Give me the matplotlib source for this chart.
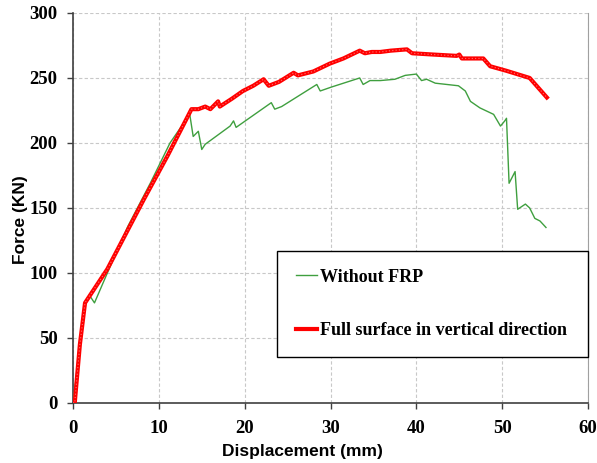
import matplotlib
matplotlib.use("Agg")
import matplotlib.pyplot as plt

# load-displacement readings, displacement in mm, force in kN
disp_plain = [0, 0.5, 1.0, 1.5, 2.0, 2.5, 4.0, 6.4, 9.0, 11.3, 13.6, 14.0, 14.6, 15.0, 15.4,
              18.3, 18.7, 19.0, 23.1, 23.5, 24.3, 28.4, 28.8, 30.1, 33.4, 33.8, 34.6, 35.8,
              37.5, 38.7, 40.0, 40.6, 41.2, 42.2, 44.9, 45.7, 46.3, 47.4, 49.0, 49.8, 50.3,
              50.5, 50.8, 51.5, 51.8, 52.7, 53.2, 53.8, 54.4, 55.1]
force_plain = [0, 27, 55, 77, 82, 77, 100, 136, 169, 200, 222, 205, 209, 195, 199,
               213, 217, 212, 231, 226, 228, 245, 240, 243, 250, 245, 248, 248,
               249, 252, 253, 248, 249, 246, 244, 240, 232, 227, 222, 213, 217,
               219, 169, 178, 149, 153, 150, 142, 140, 135]

disp_frp = [0, 0.2, 0.8, 1.4, 4.0, 8.2, 11.0, 13.8, 14.6, 15.4, 16.0, 16.9, 17.1, 18.5,
            19.8, 21.0, 22.2, 22.8, 24.0, 25.7, 26.2, 28.0, 29.9, 31.5, 33.4, 34.0,
            34.8, 35.8, 37.0, 38.9, 39.5, 42.0, 44.7, 45.0, 45.3, 47.8, 48.6, 50.5,
            53.2, 55.2]
force_frp = [0, 0, 45, 77, 103, 156, 190, 226, 226, 228, 226, 232, 228, 234,
             240, 244, 249, 244, 247, 254, 252, 255, 261, 265, 271, 269,
             270, 270, 271, 272, 269, 268, 267, 268, 265, 265, 259, 255.5,
             250, 235]

x_ticks = [0, 10, 20, 30, 40, 50, 60]
y_ticks = [0, 50, 100, 150, 200, 250, 300]

fig = plt.figure(figsize=(5.97, 4.63), dpi=100)
ax = fig.add_axes([0.1223, 0.1296, 0.8627, 0.8424])

ax.plot(disp_plain, force_plain, color="#3f9f3f", lw=1.0, label="Without FRP", zorder=3)
red, = ax.plot(disp_frp, force_frp, color="#ff0000", lw=3.0,
               label="Full surface in vertical direction", zorder=4, solid_joinstyle="round")
# light speckle along the thick red line
ax.plot(disp_frp, force_frp, color="#ff7070", lw=0.8, ls=(0, (1, 2)), zorder=5)

ax.set_xlim(0, 60)
ax.set_ylim(0, 300)
ax.set_xticks(x_ticks)
ax.set_yticks(y_ticks)
ax.grid(True, color="#c8c8c8", ls=(0, (3, 2)), lw=0.8)

for s in ["left", "bottom"]:
    ax.spines[s].set_color("#404040")
    ax.spines[s].set_linewidth(1.2)
ax.spines["right"].set_color("#a0a0a0")
ax.spines["top"].set_visible(False)

ax.tick_params(direction="out", length=4, width=1, color="#404040")
ax.tick_params(axis="x", pad=8)
ax.tick_params(axis="y", pad=7)
for lab in ax.get_xticklabels() + ax.get_yticklabels():
    lab.set_fontfamily("Liberation Serif")
    lab.set_fontweight("bold")
    lab.set_fontsize(13.5)

ax.set_xlabel("Displacement (mm)", fontfamily="Liberation Sans", fontweight="bold", fontsize=12.5)
ax.set_ylabel("Force (KN)", fontfamily="Liberation Sans", fontweight="bold", fontsize=12.5)
ax.xaxis.set_label_coords(0.445, -0.105)
ax.yaxis.set_label_coords(-0.088, 0.47)

leg = ax.legend(loc="lower left", bbox_to_anchor=(0.397, 0.118, 0.603, 0.27), mode="expand",
                prop={"family": "Liberation Serif", "weight": "bold", "size": 13},
                frameon=True, fancybox=False, edgecolor="black", framealpha=1,
                handlelength=1.2, handletextpad=0.15, labelspacing=2.0, borderpad=1.0,
                borderaxespad=0)
leg.get_frame().set_linewidth(1.0)

fig.savefig("out.png", dpi=100)
